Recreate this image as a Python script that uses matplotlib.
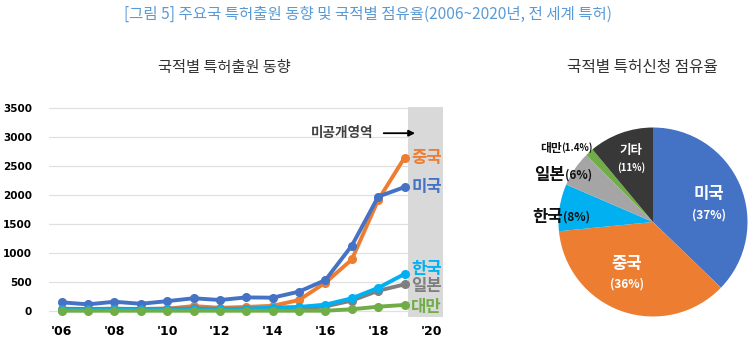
import matplotlib.pyplot as plt
import numpy as np

plt.rcParams['font.family'] = ['Noto Sans CJK KR', 'DejaVu Sans']

# line chart data (2006~2019)
years = list(range(2006, 2020))
us = [150, 115, 160, 125, 170, 220, 190, 235, 230, 335, 535, 1130, 1975, 2140]
china = [20, 30, 35, 35, 40, 85, 55, 70, 90, 190, 490, 890, 1920, 2650]
korea = [15, 15, 20, 20, 25, 30, 30, 40, 60, 70, 110, 220, 400, 640]
japan = [40, 35, 40, 35, 40, 45, 40, 40, 40, 40, 80, 180, 350, 460]
taiwan = [5, 5, 5, 5, 5, 5, 5, 5, 5, 5, 5, 30, 75, 105]

xtick_years = [2006, 2008, 2010, 2012, 2014, 2016, 2018, 2020]
xtick_labels = ["'06", "'08", "'10", "'12", "'14", "'16", "'18", "'20"]
yticks = [0, 500, 1000, 1500, 2000, 2500, 3000, 3500]

# pie data
pie_names = ['미국', '중국', '한국', '일본', '대만', '기타']
pie_share = [37, 36, 8, 6, 1.4, 11]

C_US = '#4472c4'
C_CN = '#ed7d31'
C_KR = '#00b0f0'
C_JP = '#7f7f7f'
C_TW = '#70ad47'

fig = plt.figure(figsize=(7.52, 3.44), dpi=100)

fig.text(0.489, 0.958, '[그림 5] 주요국 특허출원 동향 및 국적별 점유율(2006~2020년, 전 세계 특허)',
         ha='center', va='center', fontsize=11.2, color='#5b9bd5')
fig.text(0.298, 0.805, '국적별 특허출원 동향', ha='center', va='center',
         fontsize=11, color='#333333')
fig.text(0.854, 0.805, '국적별 특허신청 점유율', ha='center', va='center',
         fontsize=11.3, color='#333333')

# ---- line chart ----
ax = fig.add_axes([0.065, 0.0794, 0.524, 0.6105])
ax.set_xlim(2005.52, 2020.45)
ax.set_ylim(-98, 3528)
ax.axvspan(2019.12, 2020.45, color='#d9d9d9', zorder=0, lw=0)
for t in yticks:
    ax.plot([2005.52, 2019.12], [t, t], color='#e0e0e0', lw=0.9, zorder=0.5)

series = [(china, C_CN), (us, C_US), (japan, C_JP), (korea, C_KR), (taiwan, C_TW)]
for vals, col in series:
    ax.plot(years, vals, color=col, lw=2.8, marker='o', markersize=5.5, zorder=3)

ax.set_yticks(yticks)
ax.set_yticklabels([str(t) for t in yticks], fontsize=7.5, fontweight='bold',
                   family='DejaVu Sans')
ax.set_xticks(xtick_years)
ax.set_xticklabels(xtick_labels, fontsize=9, fontweight='bold', family='DejaVu Sans')
ax.tick_params(length=0, pad=6)
ax.tick_params(axis='y', pad=12)
for s in ax.spines.values():
    s.set_visible(False)

end_labels = [('중국', china[-1], C_CN), ('미국', us[-1], C_US),
              ('한국', korea[-1] + 90, C_KR), ('일본', japan[-1] - 30, C_JP),
              ('대만', taiwan[-1] - 30, C_TW)]
for name, yv, col in end_labels:
    ax.text(2019.25, yv, name, color=col, fontsize=12, fontweight='bold',
            ha='left', va='center')

ax.text(2017.8, 3070, '미공개영역', ha='right', va='center', fontsize=9.8,
        color='#404040', fontweight='bold')
ax.annotate('', xy=(2019.5, 3070), xytext=(2018.1, 3070),
            arrowprops=dict(arrowstyle='-|>', color='black', lw=1.3, mutation_scale=9))

# ---- pie ----
r = 94.5
cx, cy = 653, 222
pax = fig.add_axes([(cx - r) / 752, 1 - (cy + r) / 344, 2 * r / 752, 2 * r / 344])
pie_colors = [C_US, C_CN, C_KR, '#a5a5a5', C_TW, '#383838']
pax.pie(pie_share, colors=pie_colors, startangle=90, counterclock=False,
        wedgeprops=dict(linewidth=0))
pax.set_xlim(-1, 1)
pax.set_ylim(-1, 1)
pax.set_aspect('equal')
pax.axis('off')

pax.text(0.593, 0.30, '미국', color='white', fontsize=12, fontweight='bold',
         ha='center', va='center')
pax.text(0.593, 0.07, '(37%)', color='white', fontsize=8.5, fontweight='bold',
         ha='center', va='center')
pax.text(-0.275, -0.445, '중국', color='white', fontsize=12, fontweight='bold',
         ha='center', va='center')
pax.text(-0.275, -0.66, '(36%)', color='white', fontsize=8.5, fontweight='bold',
         ha='center', va='center')
pax.text(-0.233, 0.76, '기타', color='white', fontsize=9, fontweight='bold',
         ha='center', va='center')
pax.text(-0.233, 0.58, '(11%)', color='white', fontsize=7, fontweight='bold',
         ha='center', va='center')

outside = [('한국', '(8%)', -0.667, 0.053, 12, 8.5),
           ('일본', '(6%)', -0.646, 0.497, 12, 8.5),
           ('대만', '(1.4%)', -0.635, 0.783, 8.5, 7)]
for name, pct, x, y, fs1, fs2 in outside:
    t = pax.text(x, y, pct, color='#111111', fontsize=fs2, fontweight='bold',
                 ha='right', va='center')
    fig.canvas.draw()
    bb = t.get_window_extent().transformed(pax.transData.inverted())
    pax.text(bb.x0, y, name, color='#111111', fontsize=fs1, fontweight='bold',
             ha='right', va='center')

fig.savefig('out.png', dpi=100)
